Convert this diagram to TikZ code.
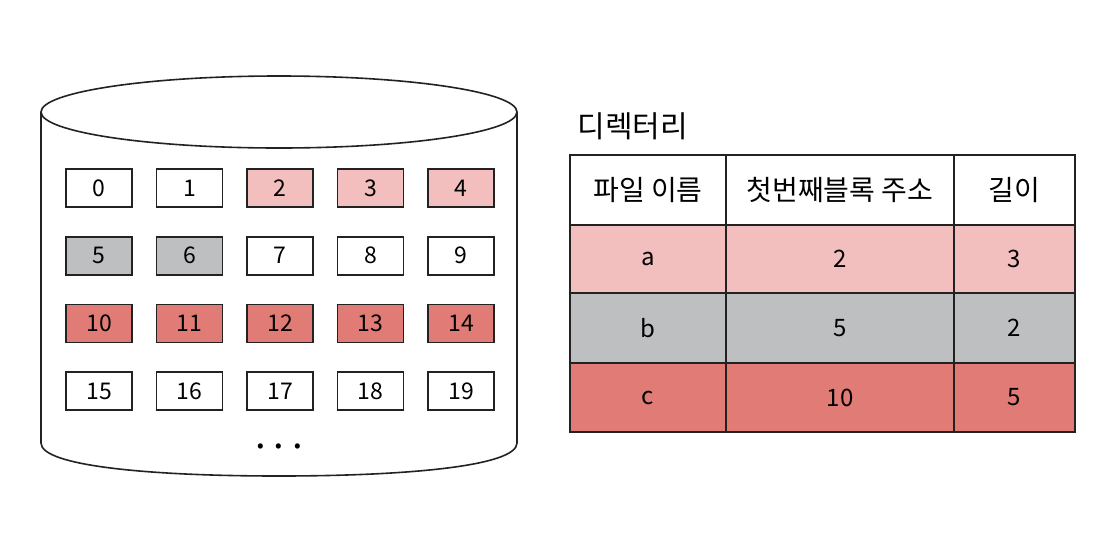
\documentclass[tikz,border=0pt]{standalone}
\usepackage{fontspec}
\setmainfont{Noto Sans CJK KR}
\definecolor{lpink}{HTML}{F2BEBE}
\definecolor{lgrey}{HTML}{BEBFC1}
\definecolor{lred}{HTML}{E07B76}
\definecolor{ink}{HTML}{222222}
\tikzset{
  blk/.style={draw=ink, line width=1.8pt, minimum width=66pt, minimum height=38pt, inner sep=0pt, font=\fontsize{23}{23}\selectfont},
  cell/.style={draw=ink, line width=2pt, inner sep=0pt, font=\fontsize{24}{24}\selectfont},
  hcell/.style={cell, fill=white, minimum height=70pt, font=\fontsize{28}{28}\selectfont},
  cyl/.style={draw=ink, line width=1.6pt}
}
\begin{document}
\begin{tikzpicture}[x=1pt,y=-1pt]
\useasboundingbox (0,0) rectangle (1104,558);
% cylinder
\draw[cyl] (41,112) -- (41,443) .. controls (41,466) and (150,476) .. (279,476) .. controls (408,476) and (517,466) .. (517,443) -- (517,112);
\draw[cyl, fill=white] (279,112) ellipse [x radius=238, y radius=36];
% blocks
\foreach \n/\c/\r/\f in {0/0/0/white,1/1/0/white,2/2/0/lpink,3/3/0/lpink,4/4/0/lpink,
  5/0/1/lgrey,6/1/1/lgrey,7/2/1/white,8/3/1/white,9/4/1/white,
  10/0/2/lred,11/1/2/lred,12/2/2/lred,13/3/2/lred,14/4/2/lred,
  15/0/3/white,16/1/3/white,17/2/3/white,18/3/3/white,19/4/3/white}{
  \node[blk, fill=\f] (b\n) at ({99+90.5*\c},{188+67.7*\r}) {\n};
}
\node[font=\fontsize{24}{24}\bfseries] (dots) at (279,450) {·\,·\,·};
% directory title
\node[anchor=west, font=\fontsize{30}{30}\selectfont] (title) at (574,126) {디렉터리};
% table
\node[hcell, minimum width=156pt] (h1) at (648,190) {파일 이름};
\node[hcell, minimum width=228pt] (h2) at (840,190) {첫번째블록 주소};
\node[hcell, minimum width=121pt] (h3) at (1014.5,190) {길이};
\node[cell, fill=lpink, minimum width=156pt, minimum height=68pt] (a1) at (648,259) {a};
\node[cell, fill=lpink, minimum width=228pt, minimum height=68pt] (a2) at (840,259) {2};
\node[cell, fill=lpink, minimum width=121pt, minimum height=68pt] (a3) at (1014.5,259) {3};
\node[cell, fill=lgrey, minimum width=156pt, minimum height=70pt] (c1) at (648,328) {b};
\node[cell, fill=lgrey, minimum width=228pt, minimum height=70pt] (c2) at (840,328) {5};
\node[cell, fill=lgrey, minimum width=121pt, minimum height=70pt] (c3) at (1014.5,328) {2};
\node[cell, fill=lred, minimum width=156pt, minimum height=69pt] (d1) at (648,397.5) {c};
\node[cell, fill=lred, minimum width=228pt, minimum height=69pt] (d2) at (840,397.5) {10};
\node[cell, fill=lred, minimum width=121pt, minimum height=69pt] (d3) at (1014.5,397.5) {5};
\end{tikzpicture}
\end{document}
